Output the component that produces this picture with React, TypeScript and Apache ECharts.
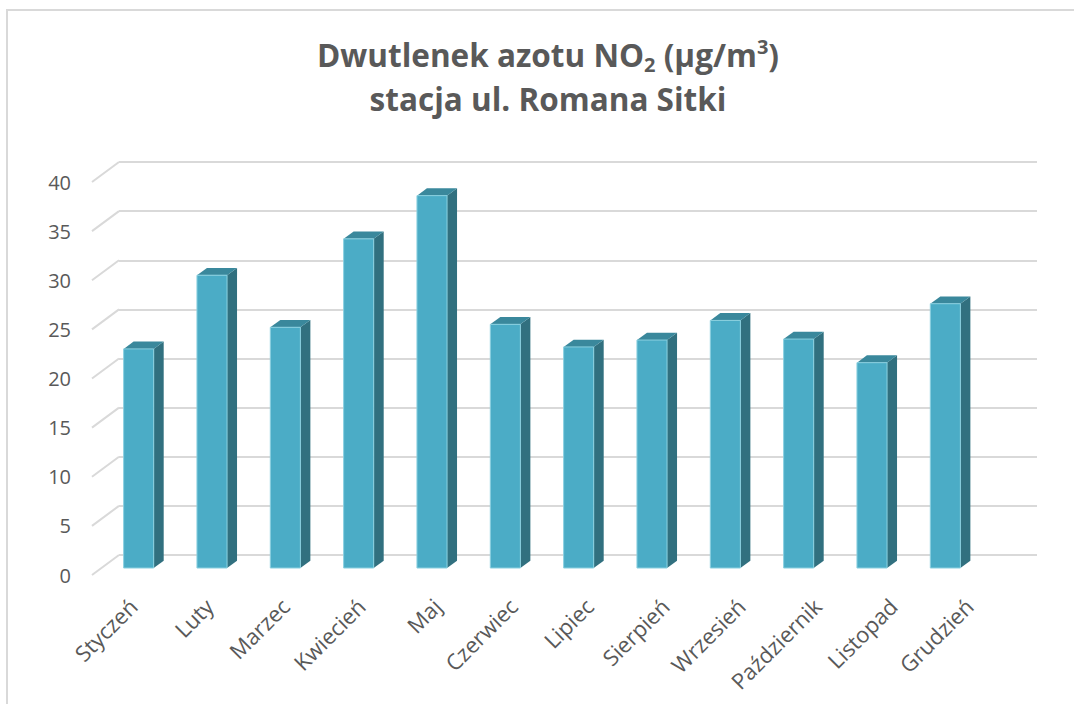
import React, { useEffect, useRef } from "react";
import * as echarts from "echarts";

const categories = ["Styczeń", "Luty", "Marzec", "Kwiecień", "Maj", "Czerwiec", "Lipiec", "Sierpień", "Wrzesień", "Październik", "Listopad", "Grudzień"];
const values = [22.3, 29.8, 24.5, 33.5, 37.9, 24.8, 22.5, 23.2, 25.2, 23.3, 20.9, 26.9];
const yTicks = [0, 5, 10, 15, 20, 25, 30, 35, 40];
const titleLine1 = ["Dwutlenek azotu NO", "2", " (µg/m", "3", ")"];
const titleLine2 = "stacja ul. Romana Sitki";

const FONT = "'Open Sans', 'Noto Sans', sans-serif";
const DEPTH_DX = 10;
const DEPTH_DY = -7.3;
const WALL_DX = -27;
const WALL_DY = 20;

export default function App() {
  const ref = useRef<HTMLDivElement>(null);
  useEffect(() => {
    if (!ref.current) return;
    const chart = echarts.init(ref.current, null, { renderer: "svg" });
    const option: any = {
      animation: false,
      backgroundColor: "#ffffff",
      textStyle: { fontFamily: FONT },
      graphic: [
        {
          type: "rect",
          shape: { x: 7, y: 10, width: 1200, height: 800 },
          style: { fill: "none", stroke: "#d9d9d9", lineWidth: 2 },
          silent: true,
        },
        {
          type: "text",
          x: 548,
          y: 32,
          style: {
            text:
              `{a|${titleLine1[0]}}{s|${titleLine1[1]}}{a|${titleLine1[2]}}{p|${titleLine1[3]}}{a|${titleLine1[4]}}\n{a|${titleLine2}}`,
            align: "center",
            verticalAlign: "top",
            fill: "#595959",
            rich: {
              a: { fontFamily: FONT, fontSize: 31.5, fontWeight: "bold", color: "#595959", lineHeight: 44 },
              s: { fontFamily: FONT, fontSize: 20, fontWeight: "bold", color: "#595959", lineHeight: 22, padding: [20, 0, 0, 0] },
              p: { fontFamily: FONT, fontSize: 20, fontWeight: "bold", color: "#595959", lineHeight: 22, padding: [0, 0, 16, 0] },
            },
          },
        },
      ],
      grid: [
        { left: 95, right: 67, top: 182, bottom: 129 },
        { left: 119, right: 37, top: 162, bottom: 149 },
        { left: 102, right: 92, top: 175, bottom: 136 },
      ],
      xAxis: [
        {
          gridIndex: 0,
          type: "category",
          data: categories,
          axisLine: { show: false },
          axisTick: { show: false },
          axisLabel: { rotate: 45, margin: 27, color: "#595959", fontSize: 22, fontFamily: FONT, interval: 0 },
        },
        { gridIndex: 1, type: "value", min: 0, max: 1, show: false },
        { gridIndex: 2, type: "category", data: categories, show: false },
      ],
      yAxis: [
        {
          gridIndex: 0,
          type: "value",
          min: 0,
          max: 40,
          interval: 5,
          axisLine: { show: false },
          axisTick: { show: false },
          splitLine: { show: false },
          axisLabel: { margin: 24, color: "#595959", fontSize: 20, fontFamily: FONT },
        },
        {
          gridIndex: 1,
          type: "value",
          min: 0,
          max: 40,
          interval: 5,
          axisLine: { show: false },
          axisTick: { show: false },
          axisLabel: { show: false },
          splitLine: { show: true, lineStyle: { color: "#d9d9d9", width: 2 } },
        },
        { gridIndex: 2, type: "value", min: 0, max: 40, interval: 5, show: false },
      ],
      series: [
        {
          type: "custom",
          xAxisIndex: 1,
          yAxisIndex: 1,
          silent: true,
          data: yTicks.map((v) => [0, v]),
          renderItem: (params: any, api: any) => {
            const p = api.coord([0, api.value(1)]);
            return {
              type: "line",
              shape: { x1: p[0], y1: p[1], x2: p[0] + WALL_DX, y2: p[1] + WALL_DY },
              style: { stroke: "#d9d9d9", lineWidth: 2 },
            };
          },
        },
        {
          type: "custom",
          xAxisIndex: 2,
          yAxisIndex: 2,
          data: values.map((v, i) => [i, v]),
          renderItem: (params: any, api: any) => {
            const i = api.value(0);
            const v = api.value(1);
            const base = api.coord([i, 0]);
            const top = api.coord([i, v]);
            const band = api.size([1, 0])[0];
            const w = band * 0.41;
            const x0 = base[0] - w / 2;
            const x1 = x0 + w;
            const yt = top[1];
            const yb = base[1];
            return {
              type: "group",
              children: [
                {
                  type: "polygon",
                  shape: { points: [[x1, yt], [x1 + DEPTH_DX, yt + DEPTH_DY], [x1 + DEPTH_DX, yb + DEPTH_DY], [x1, yb]] },
                  style: { fill: "#31707f" },
                },
                {
                  type: "polygon",
                  shape: { points: [[x0, yt], [x0 + DEPTH_DX, yt + DEPTH_DY], [x1 + DEPTH_DX, yt + DEPTH_DY], [x1, yt]] },
                  style: { fill: "#3a889c" },
                },
                {
                  type: "rect",
                  shape: { x: x0, y: yt, width: w, height: yb - yt },
                  style: { fill: "#4bacc6", stroke: "#8ad0e0", lineWidth: 1 },
                },
              ],
            };
          },
        },
      ],
    };
    chart.setOption(option);
    return () => chart.dispose();
  }, []);
  return <div ref={ref} style={{ position: "absolute", left: 0, top: 0, width: 1074, height: 704 }} />;
}
